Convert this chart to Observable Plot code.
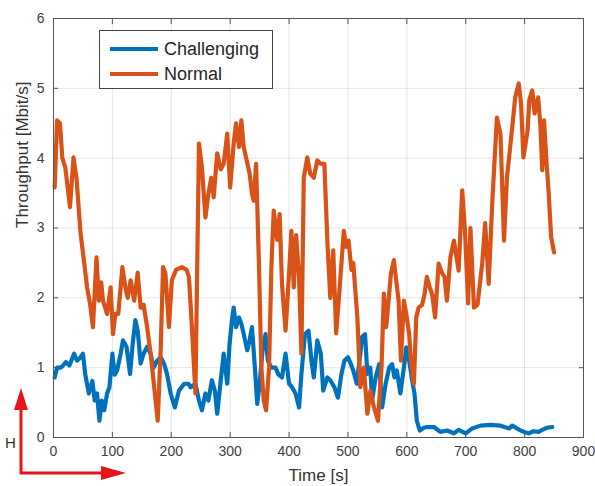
<!DOCTYPE html>
<html>
<head>
<meta charset="utf-8">
<script src="https://cdn.jsdelivr.net/npm/d3@7"></script>
<script src="https://cdn.jsdelivr.net/npm/@observablehq/plot@0.6"></script>
<style>
  body { margin: 0; background: #fff; }
  #wrap { position: relative; width: 595px; height: 486px; font-family: "Liberation Sans", Arial, sans-serif; }
  #legend { position: absolute; left: 99px; top: 30px; width: 172px; height: 57px; border: 1px solid #444; background: #fff; }
  .row { position: absolute; left: 10px; height: 22px; display: flex; align-items: center; }
  .sw { width: 48px; height: 4px; margin-right: 6px; }
  .lab { font-size: 18px; color: #262626; }
  #frag { position: absolute; left: 5px; top: 434px; font-size: 15px; color: #333; }
  #arrows { position: absolute; left: 0; top: 0; }
</style>
</head>
<body>
<div id="wrap"></div>
<script>
// Normal series: time [s], throughput [Mbit/s]
const normalT = [2,6,11,15,20,28,34,39,46,51,57,62,67,73,77,81,84,91,97,101,105,110,117,122,126,131,137,143,148,153,159,165,171,177,182,186,190,196,201,208,218,226,230,235,241,247,252,258,263,268,272,278,284,289,295,300,306,310,315,319,323,327,333,337,340,344,349,353,357,361,366,370,374,380,384,388,394,400,404,408,412,417,421,425,431,436,442,448,453,460,465,470,475,480,486,493,497,501,506,509,516,521,527,533,538,544,551,557,561,565,569,573,578,582,586,590,595,599,604,607,612,616,620,626,630,634,639,643,648,654,660,664,668,674,680,688,694,699,704,708,714,720,728,733,739,745,753,759,765,770,779,784,790,794,798,805,808,813,817,823,827,830,833,837,841,845,850];
const normalV = [3.58,4.54,4.5,4.0,3.87,3.3,4.01,3.72,2.92,2.58,2.15,1.92,1.58,2.58,1.96,2.22,1.96,1.77,2.15,1.48,1.77,1.77,2.44,2.15,2.0,2.25,1.96,2.36,1.86,1.9,1.58,1.2,0.72,0.24,1.25,2.44,2.35,1.58,2.25,2.4,2.44,2.4,2.3,1.58,0.63,4.21,3.87,3.15,3.49,3.72,3.44,4.07,3.84,3.92,4.35,3.58,4.21,4.5,4.16,4.54,4.16,4.01,3.78,3.49,3.39,3.92,2.44,1.0,0.53,0.39,1.0,2.44,3.25,2.83,3.2,2.2,1.53,2.35,2.96,2.15,2.9,2.3,1.2,3.72,4.01,3.78,3.72,3.97,3.92,3.92,2.82,2.0,2.68,1.49,2.15,2.96,2.73,2.82,2.4,2.5,1.72,0.72,1.0,0.34,0.67,0.44,0.24,1.0,2.06,1.58,1.96,2.35,2.54,2.25,1.96,1.1,1.96,1.77,1.48,1.1,0.77,1.72,1.86,1.9,2.05,2.3,2.15,2.05,1.72,2.49,2.35,2.3,1.96,2.58,2.82,2.39,3.54,2.92,1.92,3.0,1.86,1.9,2.49,3.07,2.2,3.35,4.58,4.35,2.82,3.72,4.44,4.87,5.07,4.78,4.01,4.39,4.83,4.97,4.64,4.87,4.44,3.83,4.54,3.97,3.49,2.87,2.65];

// Challenging series
const challT = [2,6,12,16,21,27,35,40,46,50,54,60,66,70,74,78,82,86,91,95,100,104,108,114,118,124,130,134,139,143,148,153,159,165,170,176,182,188,193,199,206,213,222,229,233,241,247,252,258,263,269,274,278,284,289,295,299,303,306,310,315,319,323,329,333,337,342,346,350,355,360,364,370,377,382,388,394,400,405,411,417,421,427,433,438,442,448,454,458,465,470,477,483,489,494,500,505,509,515,521,524,529,533,538,541,547,553,558,564,570,575,579,583,589,595,599,604,609,613,617,622,629,634,646,657,668,680,688,700,711,725,742,759,774,779,791,799,807,815,824,830,838,847];
const challV = [0.86,1.0,1.0,1.03,1.08,1.03,1.2,1.1,1.15,1.2,0.9,0.63,0.81,0.53,0.63,0.24,0.53,0.39,0.63,0.72,1.2,0.9,0.96,1.2,1.39,1.3,0.91,1.3,1.68,1.53,1.06,1.2,1.3,1.2,1.0,1.1,1.15,1.05,0.9,0.63,0.43,0.67,0.77,0.77,0.72,0.77,0.53,0.39,0.63,0.53,0.82,0.67,0.34,0.82,1.2,0.77,1.34,1.68,1.86,1.58,1.72,1.63,1.48,1.25,1.39,1.58,1.0,0.48,0.77,1.25,1.48,1.1,1.0,1.0,0.9,0.86,1.2,0.77,0.72,0.63,0.43,0.91,1.48,1.53,1.1,0.86,1.39,1.2,0.67,0.86,0.82,0.72,0.57,0.91,1.1,1.15,1.05,0.96,0.77,1.2,1.44,1.48,0.91,1.0,0.53,0.86,1.05,0.43,0.77,1.0,1.05,0.86,0.96,0.63,1.0,1.29,1.1,0.82,0.63,0.24,0.1,0.14,0.15,0.15,0.08,0.1,0.06,0.11,0.06,0.13,0.17,0.18,0.17,0.13,0.17,0.11,0.08,0.06,0.09,0.08,0.11,0.14,0.15];

const xTicks = [0,100,200,300,400,500,600,700,800,900];
const yTicks = [0,1,2,3,4,5,6];
const seriesNames = ["Challenging", "Normal"];
const seriesColors = ["#0072BD", "#D95319"];
const xLabel = "Time [s]";
const yLabel = "Throughput [Mbit/s]";

const challenging = challT.map((t, i) => ({t, v: challV[i]}));
const normal = normalT.map((t, i) => ({t, v: normalV[i]}));
const blank = () => "";
const plain = d => String(d);

const chart = Plot.plot({
  width: 595,
  height: 486,
  marginLeft: 53,
  marginRight: 12,
  marginTop: 18,
  marginBottom: 49,
  style: {fontFamily: "'Liberation Sans', Arial, sans-serif", fontSize: "14px", color: "#404040", background: "#fff"},
  x: {type: "linear", domain: [0, 900]},
  y: {type: "linear", domain: [0, 6]},
  marks: [
    Plot.gridX(xTicks, {stroke: "#000", strokeOpacity: 0.1}),
    Plot.gridY(yTicks, {stroke: "#000", strokeOpacity: 0.1}),
    Plot.axisX(xTicks, {anchor: "bottom", tickSize: 0, tickPadding: 9, tickFormat: plain, label: null, fontSize: 14}),
    Plot.axisY(yTicks, {anchor: "left", tickSize: 0, tickPadding: 9, tickFormat: plain, label: null, fontSize: 14}),
    Plot.axisX(xTicks, {anchor: "bottom", tickSize: -5, tickFormat: blank, label: null, stroke: "#555"}),
    Plot.axisX(xTicks, {anchor: "top", tickSize: -5, tickFormat: blank, label: null, stroke: "#555"}),
    Plot.axisY(yTicks, {anchor: "left", tickSize: -5, tickFormat: blank, label: null, stroke: "#555"}),
    Plot.axisY(yTicks, {anchor: "right", tickSize: -5, tickFormat: blank, label: null, stroke: "#555"}),
    Plot.line(challenging, {x: "t", y: "v", stroke: seriesColors[0], strokeWidth: 4.2, strokeLinejoin: "round"}),
    Plot.line(normal, {x: "t", y: "v", stroke: seriesColors[1], strokeWidth: 4.2, strokeLinejoin: "round"}),
    Plot.frame({stroke: "#555", strokeWidth: 1}),
    Plot.text([xLabel], {frameAnchor: "bottom", dy: 43, fontSize: 17, fill: "#333"}),
    Plot.text([yLabel], {frameAnchor: "left", dx: -31, rotate: -90, fontSize: 17, fill: "#333"})
  ]
});

const wrap = document.getElementById("wrap");
wrap.appendChild(chart);

// legend
const legend = document.createElement("div");
legend.id = "legend";
seriesNames.forEach((name, i) => {
  const row = document.createElement("div");
  row.className = "row";
  row.style.top = (7 + i * 25) + "px";
  const sw = document.createElement("div");
  sw.className = "sw";
  sw.style.background = seriesColors[i];
  const lab = document.createElement("span");
  lab.className = "lab";
  lab.textContent = name;
  row.appendChild(sw);
  row.appendChild(lab);
  legend.appendChild(row);
});
wrap.appendChild(legend);

// fragment text and red arrows (annotation overlay)
const frag = document.createElement("div");
frag.id = "frag";
frag.textContent = "H";
wrap.appendChild(frag);

const ns = "http://www.w3.org/2000/svg";
const svg = document.createElementNS(ns, "svg");
svg.setAttribute("id", "arrows");
svg.setAttribute("width", 595);
svg.setAttribute("height", 486);
svg.innerHTML = `
  <line x1="21" y1="474" x2="21" y2="405" stroke="#e8141b" stroke-width="3"/>
  <polygon points="21,388 14,410 28,410" fill="#e8141b"/>
  <line x1="20" y1="473" x2="104" y2="473" stroke="#e8141b" stroke-width="3"/>
  <polygon points="126,473 101,466 101,480" fill="#e8141b"/>`;
wrap.appendChild(svg);
</script>
</body>
</html>
